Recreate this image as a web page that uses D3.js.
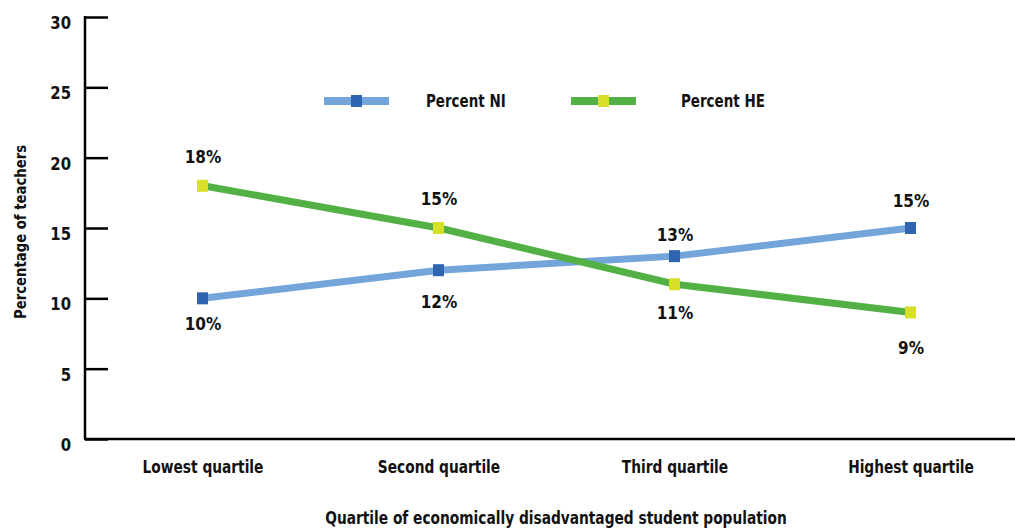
<!DOCTYPE html>
<html>
<head>
<meta charset="utf-8">
<script src="https://cdn.jsdelivr.net/npm/d3@7"></script>
<style>
body { margin: 0; background: #fff; }
text { font-family: "DejaVu Sans Condensed", "DejaVu Sans", sans-serif; font-weight: bold; fill: #111; }
</style>
</head>
<body>
<svg width="1015" height="529"></svg>
<script>
var categories = ["Lowest quartile", "Second quartile", "Third quartile", "Highest quartile"]
var percent_ni = [10, 12, 13, 15]
var percent_he = [18, 15, 11, 9]
var y_ticks = [0, 5, 10, 15, 20, 25, 30]

var svg = d3.select("svg")

var x = d3.scalePoint().domain(categories).range([203, 911])
var y = d3.scaleLinear().domain([0, 30]).range([439, 17])

var series = [
  {name: "Percent NI", values: percent_ni, line: "#73a5da", marker: "#2f64b1", label_dy: [32, 38, -15, -21], lx: 324, tx: 102},
  {name: "Percent HE", values: percent_he, line: "#52b045", marker: "#d8df27", label_dy: [-23, -23, 35, 42], lx: 571, tx: 110}
]

// narrow text: the original uses a condensed face
function ntext(parent, tx, ty, str, size, anchor, sx, rot){
  var g = parent.append("g")
    .attr("transform", "translate(" + tx + "," + ty + ")" + (rot ? " rotate(" + rot + ")" : "") + " scale(" + sx + ",1)")
  g.append("text").attr("text-anchor", anchor).attr("font-size", size).text(str)
  return g
}

/* axes */
var yAxis = d3.axisRight(y).tickValues(y_ticks).tickSize(23).tickFormat("")
var gy = svg.append("g").attr("transform", "translate(85,0)").call(yAxis)
gy.select(".domain").remove()
gy.selectAll("line").attr("stroke", "#000").attr("stroke-width", 2.5)

svg.append("line").attr("x1", 85).attr("x2", 85).attr("y1", y(30) - 1).attr("y2", y(0))
  .attr("stroke", "#000").attr("stroke-width", 2.5)
svg.append("line").attr("x1", 84).attr("x2", 1015).attr("y1", y(0)).attr("y2", y(0))
  .attr("stroke", "#000").attr("stroke-width", 2.5)

y_ticks.forEach(function(d){
  ntext(svg, 71, y(d) + 12, d, 18, "end", 0.92)
})

categories.forEach(function(c){
  ntext(svg, x(c), 473, c, 17, "middle", 0.9)
})

ntext(svg, 556, 524, "Quartile of economically disadvantaged student population", 17, "middle", 0.9)
ntext(svg, 26, 232, "Percentage of teachers", 16, "middle", 0.92, -90)

/* lines */
var line = d3.line()
  .x(function(d, i){ return x(categories[i]) })
  .y(function(d){ return y(d) })

series.forEach(function(s){
  var g = svg.append("g")
  g.append("path").datum(s.values).attr("d", line)
    .attr("fill", "none").attr("stroke", s.line).attr("stroke-width", 7)
  g.selectAll("rect").data(s.values).enter().append("rect")
    .attr("x", function(d, i){ return x(categories[i]) - 6 })
    .attr("y", function(d){ return y(d) - 6 })
    .attr("width", 11).attr("height", 12).attr("fill", s.marker)
  s.values.forEach(function(d, i){
    ntext(g, x(categories[i]), y(d) + s.label_dy[i], d + "%", 18.5, "middle", 0.92)
  })

  /* legend */
  var lg = svg.append("g")
  lg.append("line").attr("x1", s.lx).attr("x2", s.lx + 65).attr("y1", 101).attr("y2", 101)
    .attr("stroke", s.line).attr("stroke-width", 8)
  lg.append("rect").attr("x", s.lx + 27).attr("y", 95).attr("width", 11).attr("height", 12).attr("fill", s.marker)
  ntext(lg, s.lx + s.tx, 107, s.name, 17, "start", 0.88)
})
</script>
</body>
</html>
